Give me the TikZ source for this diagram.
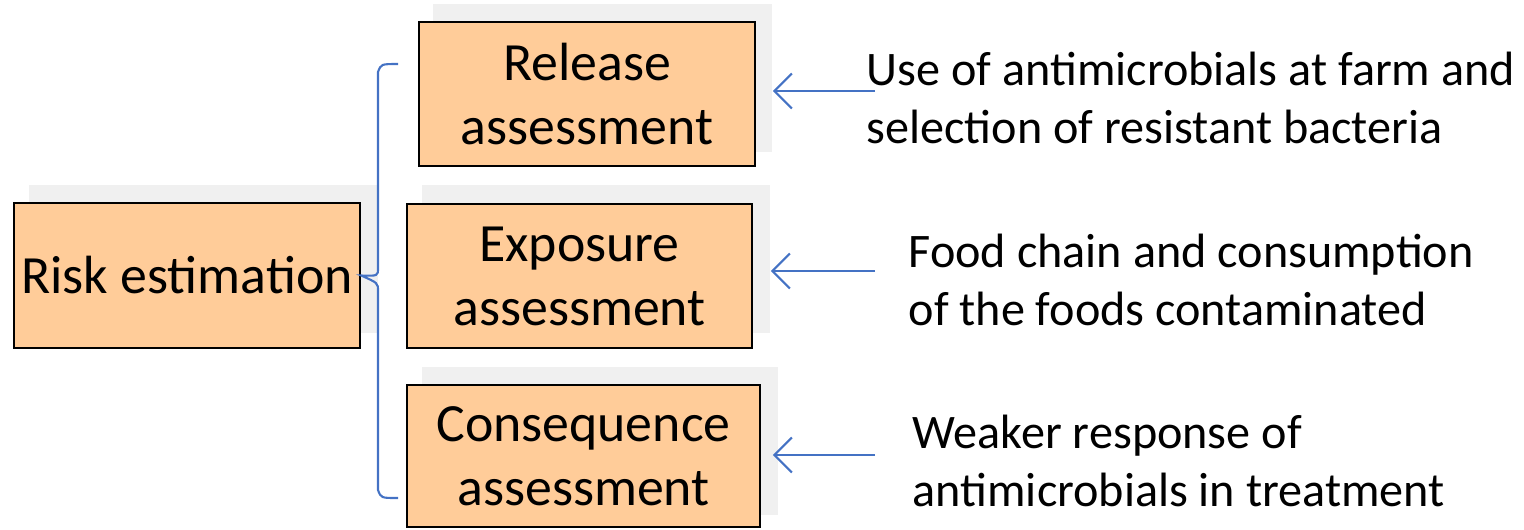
\documentclass[tikz,border=0pt]{standalone}
\usepackage{fontspec}
\setmainfont{Carlito}
\usetikzlibrary{arrows.meta}
\definecolor{peach}{HTML}{FFCC99}
\definecolor{shadegray}{HTML}{F0F0F0}
\definecolor{linkblue}{HTML}{4472C4}

\begin{document}
\begin{tikzpicture}[x=0.01cm, y=-0.01cm,
    box/.style={draw, line width=0.6pt, fill=peach, align=center, inner sep=0pt,
        font=\fontsize{15.3}{18.2}\selectfont},
    backshade/.style={fill=shadegray, inner sep=0pt, minimum height=1.48cm},
    note/.style={anchor=west, align=left, inner sep=0pt,
        font=\fontsize{13.7}{16.4}\selectfont},
    link/.style={linkblue, line width=0.6pt, -{Straight Barb[length=5pt,width=10pt]}},
    brace/.style={linkblue, line width=0.6pt}]
  \useasboundingbox (0,0) rectangle (1524,529);

  % grey shadows behind the boxes
  \node[backshade, minimum width=3.49cm] (risk-sh) at (203.5,259) {};
  \node[backshade, minimum width=3.39cm] (rel-sh)  at (602.5,78)  {};
  \node[backshade, minimum width=3.48cm] (exp-sh)  at (596,259)   {};
  \node[backshade, minimum width=3.56cm] (con-sh)  at (600,441)   {};

  \node[box, minimum width=3.46cm, minimum height=1.45cm] (risk) at (187,275.5) {Risk estimation};
  \node[box, minimum width=3.36cm, minimum height=1.44cm] (rel)  at (587,94)    {Release\\assessment};
  \node[box, minimum width=3.45cm, minimum height=1.44cm] (exp)  at (579.5,276) {Exposure\\assessment};
  \node[box, minimum width=3.53cm, minimum height=1.42cm] (con)  at (583.5,456) {Consequence\\assessment};

  \node[note] (use)  at (866,98)  {Use of antimicrobials at farm and\\selection of resistant bacteria};
  \node[note] (food) at (908,280) {Food chain and consumption\\of the foods contaminated};
  \node[note] (weak) at (912,461) {Weaker response of\\antimicrobials in treatment};

  % brace
  \coordinate (brace-top) at (398,64);
  \coordinate (brace-bot) at (398,498);
  \draw[brace] (brace-top) .. controls (381,64) .. (378,72) -- (378,268)
      .. controls (378,276) .. (risk.east) .. controls (378,283) .. (378,291)
      -- (378,490) .. controls (381,498) .. (brace-bot);

  \coordinate (src1) at (875,91);
  \coordinate (src2) at (875,271);
  \coordinate (src3) at (875,455);
  \draw[link] (src1) -- (src1 -| rel-sh.east);
  \draw[link] (src2) -- (src2 -| exp-sh.east);
  \draw[link] (src3) -- (src3 -| rel-sh.east);
\end{tikzpicture}
\end{document}
